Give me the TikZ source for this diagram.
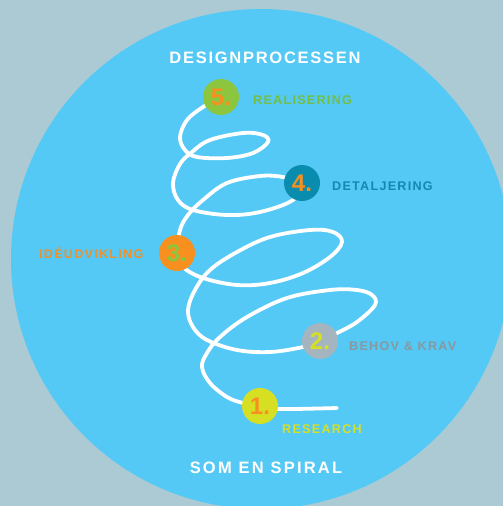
\documentclass[tikz,border=0pt]{standalone}
\usepackage{fontspec}
\setmainfont{Liberation Sans}
\newfontfamily\titlefont[LetterSpace=10.5]{Liberation Sans}
\newfontfamily\subtitlefont[LetterSpace=13.5]{Liberation Sans}
\newfontfamily\labelfont[LetterSpace=10]{Liberation Sans}
\definecolor{bgc}{HTML}{ABCAD4}
\definecolor{discc}{HTML}{54C9F5}
\definecolor{cgreen}{HTML}{8CC63F}
\definecolor{lgreen}{HTML}{72BF44}
\definecolor{cteal}{HTML}{0A8CAE}
\definecolor{lteal}{HTML}{1388B0}
\definecolor{corange}{HTML}{F7901E}
\definecolor{lorange}{HTML}{F0902A}
\definecolor{cgray}{HTML}{A5B5BF}
\definecolor{lgray}{HTML}{8A979F}
\definecolor{cyellow}{HTML}{D7DF23}
\tikzset{
  stepdot/.style={circle, minimum size=36pt, inner sep=0pt, fill=#1,
    font=\bfseries\fontsize{24}{24}\selectfont},
  steplabel/.style={anchor=base west, inner sep=0pt, text=#1,
    font=\labelfont\bfseries\fontsize{12.6}{14}\selectfont},
  headline/.style={anchor=base, inner sep=0pt, text=white,
    font=\titlefont\bfseries\fontsize{16.5}{20}\selectfont},
  subheadline/.style={anchor=base, inner sep=0pt, text=white,
    font=\subtitlefont\bfseries\fontsize{16.5}{20}\selectfont},
  spiralline/.style={draw=white, line width=3.8pt, line cap=round}
}
\begin{document}
\begin{tikzpicture}[x=1pt,y=-1pt]
\useasboundingbox (0,0) rectangle (503,506);
\begin{scope}
\clip (0,0) rectangle (503,506);
\fill[bgc] (0,0) rectangle (503,506);
\fill[discc] (261,259) circle[radius=250pt];
\end{scope}

% circle positions
\coordinate (p5) at (221,97);
\coordinate (p4) at (302,183);
\coordinate (p3) at (177,253);
\coordinate (p2) at (320,341);
\coordinate (p1) at (260,406);
\coordinate (tailend) at (337,408);

% spiral
\begin{scope}[spiralline]
\draw plot[smooth, tension=0.6] coordinates {(p5) (203,107) (187,120) (180,137) (185,150) (197,157) (227,158) (253,153) (268,142) (263,135) (243,133) (210,140) (192,152) (180,164) (173,183) (178,200) (193,210) (227,215) (260,212) (293,200) (p4)};
\draw plot[smooth, tension=0.6] coordinates {(p4) (283,177) (260,176) (227,183) (203,200) (188,215) (180,230) (p3)};
\draw plot[smooth, tension=0.6] coordinates {(p3) (183,267) (203,278) (237,285) (270,283) (303,273) (330,257) (342,242) (333,232) (310,230) (270,237) (237,252) (210,270) (195,290) (188,310) (193,327) (207,340) (237,350) (270,352) (303,347) (p2)};
\draw plot[smooth, tension=0.6] coordinates {(p2) (337,333) (357,322) (375,305) (372,295) (357,290) (330,290) (287,298) (247,317) (220,337) (207,353) (202,367) (210,383) (227,397) (243,403) (p1)};
\draw plot[smooth, tension=0.6] coordinates {(p1) (280,409) (tailend)};
\end{scope}

% numbered circles
\node[stepdot=cgreen, text=corange] (c5) at (p5) {5.};
\node[stepdot=cteal, text=corange] (c4) at (p4) {4.};
\node[stepdot=corange, text=cgreen] (c3) at (p3) {3.};
\node[stepdot=cgray, text=cyellow] (c2) at (p2) {2.};
\node[stepdot=cyellow, text=corange] (c1) at (p1) {1.};

% labels
\node[steplabel=lgreen] (l5) at (253,104) {REALISERING};
\node[steplabel=lteal] (l4) at (332,190) {DETALJERING};
\node[steplabel=lorange] (l3) at (39,258) {IDÉUDVIKLING};
\node[steplabel=lgray] (l2) at (349,350) {BEHOV \& KRAV};
\node[steplabel=cyellow] (l1) at (282,433) {RESEARCH};

\node[headline] (title) at (265,63) {DESIGNPROCESSEN};
\node[subheadline] (subtitle) at (266,473) {SOM EN SPIRAL};
\end{tikzpicture}
\end{document}
